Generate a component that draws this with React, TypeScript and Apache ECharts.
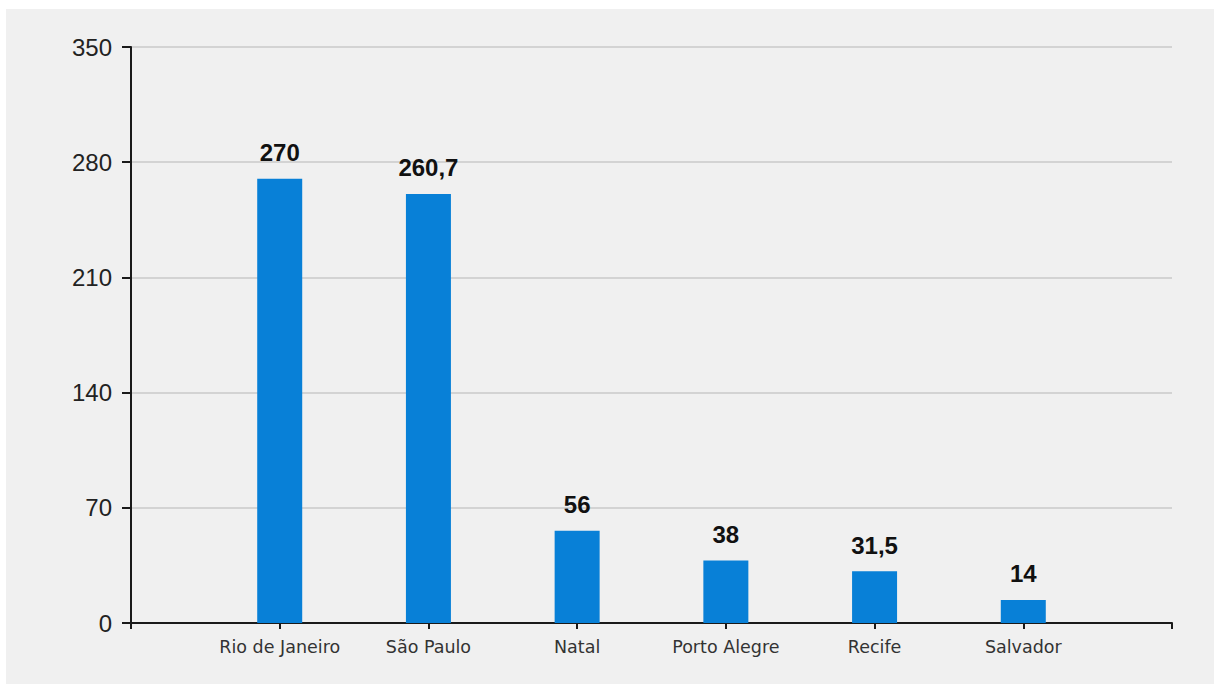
import React, { useEffect, useRef } from "react";
import * as echarts from "echarts";

// Cities, with an empty slot at each end of the category axis
const cities = ["", "Rio de Janeiro", "São Paulo", "Natal", "Porto Alegre", "Recife", "Salvador", ""];
const values: (number | null)[] = [null, 270, 260.7, 56, 38, 31.5, 14, null];
const yTicks = { min: 0, max: 350, interval: 70 };

const FONT = "'Liberation Sans', Arial, sans-serif";
const CAT_FONT = "'DejaVu Sans', Verdana, sans-serif";

export default function App() {
  const ref = useRef<HTMLDivElement>(null);

  useEffect(() => {
    if (!ref.current) return;
    const chart = echarts.init(ref.current, undefined, { renderer: "svg" });
    chart.setOption({
      animation: false,
      backgroundColor: "#f0f0f0",
      textStyle: { fontFamily: FONT },
      grid: { left: 125, right: 42, top: 38, bottom: 61, containLabel: false },
      xAxis: {
        type: "category",
        data: cities,
        boundaryGap: false,
        axisLine: { show: true, lineStyle: { color: "#1a1a1a", width: 2 } },
        axisTick: { show: true, length: 6, lineStyle: { color: "#1a1a1a", width: 2 } },
        axisLabel: { color: "#333", fontSize: 17.5, fontFamily: CAT_FONT, margin: 15, interval: 0 },
        splitLine: { show: false },
      },
      yAxis: {
        type: "value",
        min: yTicks.min,
        max: yTicks.max,
        interval: yTicks.interval,
        axisLine: { show: true, lineStyle: { color: "#1a1a1a", width: 2 } },
        axisTick: { show: true, length: 9, lineStyle: { color: "#1a1a1a", width: 2 } },
        axisLabel: { color: "#222", fontSize: 24, fontFamily: FONT, margin: 19 },
        splitLine: { show: true, lineStyle: { color: "#d3d3d3", width: 2 } },
      },
      series: [
        {
          type: "bar",
          data: values,
          barWidth: 45,
          itemStyle: { color: "#0880d7" },
          label: {
            show: true,
            position: "top",
            distance: 14,
            color: "#111",
            fontSize: 24,
            fontWeight: "bold",
            fontFamily: FONT,
            formatter: (p: any) => String(p.value).replace(".", ","),
          },
        },
      ],
    });
    return () => chart.dispose();
  }, []);

  return (
    <div style={{ position: "fixed", left: 0, top: 0, width: 1214, height: 684, background: "#ffffff" }}>
      <div ref={ref} style={{ position: "absolute", left: 6, top: 9, width: 1208, height: 675 }} />
    </div>
  );
}
